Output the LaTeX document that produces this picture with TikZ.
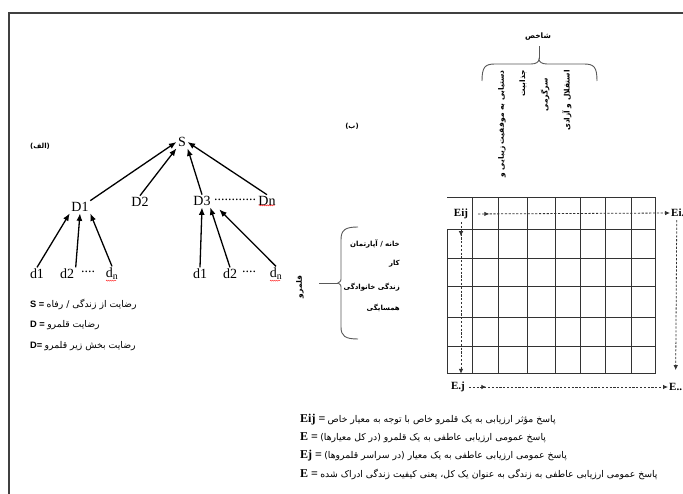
\documentclass[tikz,border=0pt]{standalone}
\usepackage{fontspec}
\setmainfont{Liberation Serif}
\newfontfamily\fa[Script=Arabic]{DejaVu Sans}
\newfontfamily\sfb{Liberation Sans}
\TeXXeTstate=1
\usetikzlibrary{arrows.meta,decorations.markings,decorations.pathmorphing}
\newcommand{\fatxt}[1]{{\fa\beginR #1\endR}}

\tikzset{
  lbl/.style={font=\fontsize{14}{14}\selectfont, inner sep=1.5pt},
  arr/.style={-{Latex[length=7.5pt,width=6pt]}, line width=1.3pt},
  grd/.style={line width=1pt, draw=black!80},
  brc/.style={line width=0.9pt, draw=black!65},
  dasharr/.style={dash pattern=on 2.2pt off 1.6pt, line width=0.8pt, draw=black!80, -{Latex[length=5pt,width=4.5pt]}},
  midarr/.style={postaction={decorate},
    decoration={markings,mark=at position #1 with {\arrow{Latex[length=5pt,width=4.5pt]}}}},
  elbl/.style={font=\fontsize{11}{11}\selectfont\bfseries, inner sep=1pt},
  leg/.style={font=\fontsize{9.3}{9.3}\selectfont, inner sep=0pt, anchor=west},
  crit/.style={font=\fontsize{7.5}{7.5}\selectfont\bfseries, rotate=90, anchor=east, inner sep=0pt},
  dom/.style={font=\fontsize{7}{7}\selectfont\bfseries, anchor=east, inner sep=0pt},
  squig/.style={red!80, line width=0.5pt, decorate, decoration={snake,amplitude=0.5pt,segment length=2pt}}
}

\begin{document}
\begin{tikzpicture}[x=1pt,y=-1pt]
\useasboundingbox (0,0) rectangle (683,494);
% frame (cut off on the right and at the bottom)
\draw[line width=1.2pt, black!75] (9,510) -- (9,13) -- (700,13);

%             S
%          /  |  \  \
%       D1   D2   D3 .... Dn
%      / | \      / | \
%    d1 d2  dn  d1 d2  dn
\node[font=\fontsize{7}{7}\selectfont\bfseries] (alef) at (40,146) {\fatxt{(الف)}};
\node[lbl] (S) at (182,142) {S};
\node[lbl] (D1) at (80,207) {D1};
\node[lbl] (D2) at (140,202) {D2};
\node[lbl] (D3) at (202,201) {D3};
\node[lbl, inner sep=0pt] (Ddots) at (235,200) {............};
\node[lbl] (Dn) at (267,201) {Dn};
\node[lbl] (d1a) at (37,274) {d1};
\node[lbl] (d2a) at (67,274) {d2};
\node[lbl] (dda) at (88,272) {....};
\node[lbl] (dna) at (112,274) {d\textsubscript{n}};
\node[lbl] (d1b) at (200,274) {d1};
\node[lbl] (d2b) at (230,274) {d2};
\node[lbl] (ddb) at (249,272) {....};
\node[lbl] (dnb) at (276,274) {d\textsubscript{n}};
\draw[squig] (Dn.south west) ++(2,-2) -- ++(16,0);
\draw[squig] (dna.south west) ++(2,-1) -- ++(10,0);
\draw[squig] (dnb.south west) ++(2,-1) -- ++(10,0);

\draw[arr] (D1.north east) -- (S.west);
\draw[arr] (D2.north) -- (S.south west);
\draw[arr] (D3.north) -- (S.south east);
\draw[arr] (Dn.north) -- (S.east);
\draw[arr] (d1a.north) -- (D1.south west);
\draw[arr] (d2a.north east) -- (D1.south);
\draw[arr] (dna.north) -- (D1.south east);
\draw[arr] (d1b.north) -- (D3.south);
\draw[arr] (d2b.north) -- ([xshift=-2pt]D3.south east);
\draw[arr] (dnb.north) -- ([xshift=7pt,yshift=-2pt]D3.south east);

\node[leg] (legS) at (30,304) {{\sfb\bfseries S =} \fatxt{رضایت از زندگی / رفاه}};
\node[leg] (legD) at (30,325) {{\sfb\bfseries D =} \fatxt{رضایت قلمرو}};
\node[leg] (legd) at (30,346) {{\sfb\bfseries D=} \fatxt{رضایت بخش زیر قلمرو}};

% (ب) matrix of domains and criteria
\node[font=\fontsize{7}{7}\selectfont\bfseries] (be) at (352,126) {\fatxt{(ب)}};

\node[font=\fontsize{7.5}{7.5}\selectfont\bfseries] (shakhes) at (538,37) {\fatxt{شاخص}};
\coordinate (tip) at (539,59);
\draw[brc] (shakhes.south) ++(1,2) -- (tip);
\draw[brc] (482,81) .. controls (482,67) and (485,64) .. (495,64) -- (531,64)
  .. controls (536,64) and (539,62) .. (tip) .. controls (539,62) and (542,64) .. (547,64)
  -- (584,64) .. controls (594,64) and (597,67) .. (597,81);
\node[crit] (c1) at (502,70) {\fatxt{دستیابی به موفقیت زیبایی و}};
\node[crit] (c2) at (523,70) {\fatxt{جذابیت}};
\node[crit] (c3) at (545,78) {\fatxt{سرگرمی}};
\node[crit] (c4) at (567,70) {\fatxt{استقلال و آزادی}};

\node[font=\fontsize{7.5}{7.5}\selectfont\bfseries, rotate=90] (qalam) at (300,287) {\fatxt{قلمرو}};
\coordinate (cusp) at (338,283);
\draw[brc] (qalam.south) ++(12,-4) -- (cusp);
\draw[brc] (358,227) .. controls (345,227) and (341,230) .. (341,240) -- (341,277)
  .. controls (341,281) .. (cusp) .. controls (341,285) .. (341,289)
  -- (341,327) .. controls (341,336) and (345,339) .. (358,339);
\node[dom] (q1) at (400,244) {\fatxt{خانه / آپارتمان}};
\node[dom] (q2) at (400,264) {\fatxt{کار}};
\node[dom] (q3) at (400,287) {\fatxt{زندگی خانوادگی}};
\node[dom] (q4) at (400,308) {\fatxt{همسایگی}};

% grid
\draw[grd] (447,198) -- (655,198) -- (655,374) -- (447,374) -- (447,230);
\foreach \x in {472,498,527,555,580,605,631}
  \draw[grd] (\x,198) -- (\x,374);
\foreach \y in {230,259,287,318,347}
  \draw[grd] (447,\y) -- (655,\y);

\node[elbl] (Eij) at (461,214) {Eij};
\node[elbl, anchor=west] (Eid) at (670,213) {Ei.};
\node[elbl] (Edj) at (458,387) {E.j};
\node[elbl, anchor=west] (Edd) at (668,387) {E..};
\draw[dasharr, midarr=0.1, shorten <=9pt] (Eij.east) -- (Eid.west);
\draw[dasharr, midarr=0.1, shorten <=2pt, shorten >=7pt] (Eij.south) -- (Eij.south |- Edj.north);
\draw[dasharr, shorten <=2pt, shorten >=12pt] (Eid.south) ++(-1,0) -- (Edd.north);
\draw[dasharr, midarr=0.1, shorten <=3pt] (Edj.east) -- (Edd.west);

\node[leg] (l1) at (300,420) {{\bfseries\fontsize{12}{12}\selectfont Eij =} \fatxt{پاسخ مؤثر ارزیابی به یک قلمرو خاص با توجه به معیار خاص}};
\node[leg] (l2) at (300,438) {{\bfseries\fontsize{12}{12}\selectfont E =} \fatxt{پاسخ عمومی ارزیابی عاطفی به یک قلمرو (در کل معیارها)}};
\node[leg] (l3) at (300,456) {{\bfseries\fontsize{12}{12}\selectfont Ej =} \fatxt{پاسخ عمومی ارزیابی عاطفی به یک معیار (در سراسر قلمروها)}};
\node[leg] (l4) at (300,474) {{\bfseries\fontsize{12}{12}\selectfont E =} \fatxt{پاسخ عمومی ارزیابی عاطفی به زندگی به عنوان یک کل، یعنی کیفیت زندگی ادراک شده}};
\end{tikzpicture}
\end{document}
